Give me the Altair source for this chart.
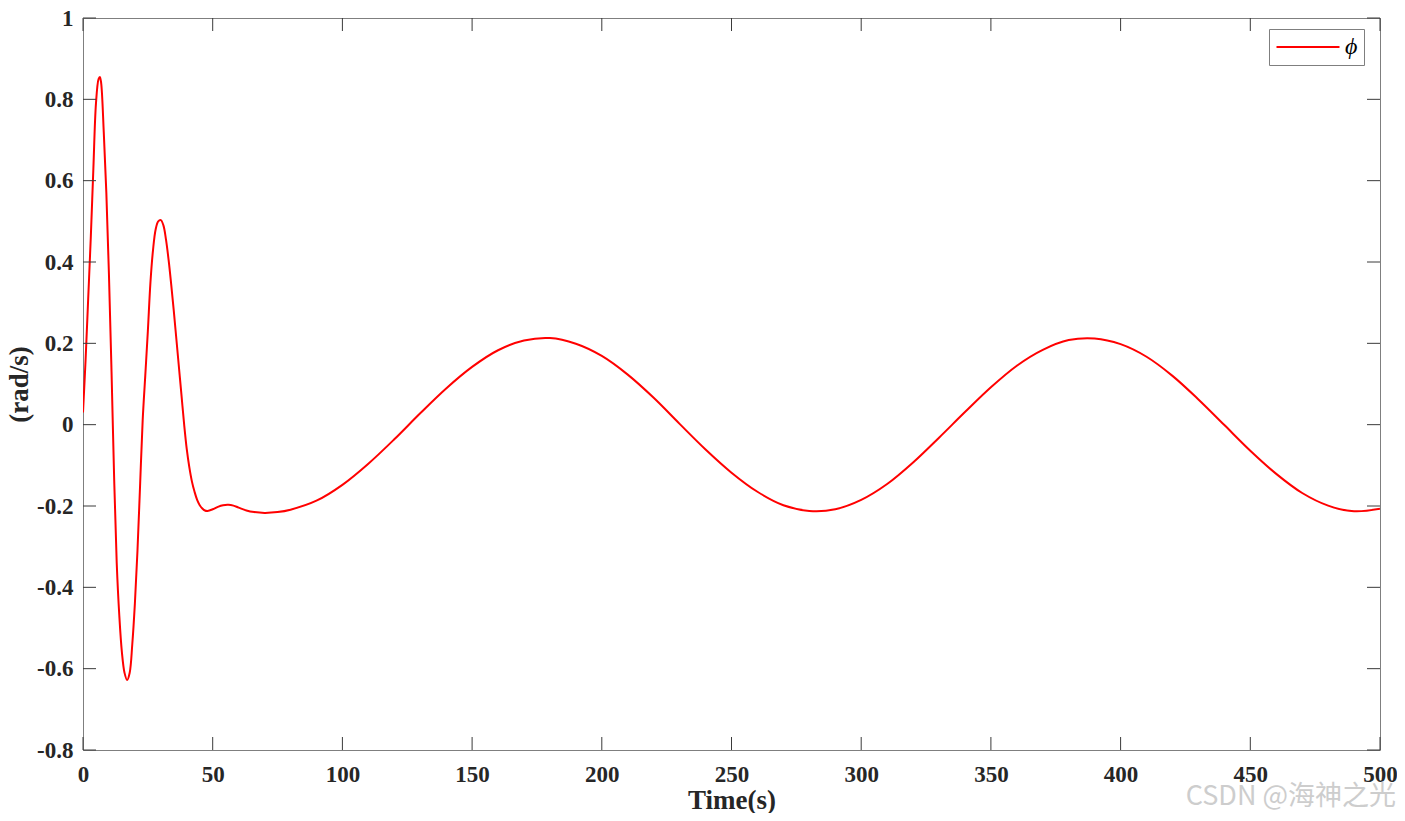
import altair as alt
import pandas as pd

# ---- data ----
time_early = [0, 1, 2, 3, 4, 5, 6, 6.5, 7, 8, 9, 10, 11, 12, 13, 14, 15, 16, 17, 18, 19, 20,
              21, 22, 23, 24, 25, 26, 27, 28, 29, 30, 31, 32, 33, 34, 35, 36, 37, 38, 39, 40,
              41, 42, 43, 44, 45, 46, 47, 48, 50, 52, 54, 56, 58, 60, 63, 66, 70, 75]
phi_early = [0.03, 0.16, 0.31, 0.46, 0.63, 0.79, 0.85, 0.855, 0.84, 0.72, 0.57, 0.37, 0.13,
             -0.13, -0.34, -0.47, -0.56, -0.61, -0.628, -0.61, -0.54, -0.44, -0.31, -0.15,
             0.01, 0.12, 0.23, 0.35, 0.43, 0.48, 0.50, 0.503, 0.49, 0.455, 0.405, 0.345, 0.28,
             0.21, 0.14, 0.07, 0.0, -0.06, -0.105, -0.14, -0.165, -0.185, -0.198, -0.206,
             -0.211, -0.212, -0.208, -0.202, -0.198, -0.197, -0.199, -0.204, -0.211, -0.215,
             -0.217, -0.215]
time_late = [80, 90, 100, 110, 120, 130, 140, 150, 160, 170, 180, 190, 200, 210, 220, 230,
             240, 250, 260, 270, 280, 290, 300, 310, 320, 330, 340, 350, 360, 370, 380, 390,
             400, 410, 420, 430, 440, 450, 460, 470, 480, 490, 500]
phi_late = [-0.209, -0.187, -0.148, -0.096, -0.036, 0.028, 0.089, 0.142, 0.183, 0.207, 0.213,
            0.199, 0.169, 0.123, 0.066, 0.002, -0.061, -0.118, -0.165, -0.198, -0.212, -0.208,
            -0.185, -0.146, -0.093, -0.032, 0.031, 0.092, 0.145, 0.184, 0.208, 0.212, 0.198,
            0.167, 0.120, 0.062, -0.001, -0.064, -0.121, -0.168, -0.199, -0.213, -0.207]

x_ticks = [0, 50, 100, 150, 200, 250, 300, 350, 400, 450, 500]
y_ticks = [-0.8, -0.6, -0.4, -0.2, 0, 0.2, 0.4, 0.6, 0.8, 1]
series_name = "\u03d5"
watermark = "CSDN @\u6d77\u795e\u4e4b\u5149"

W, H = 1297, 732
TICK = 13
FONT = "Liberation Serif"
PAD_L, PAD_T, PAD_R, PAD_B = 75, 10, 17, 63
X0, Y0 = 8 + PAD_L, 8 + PAD_T  # page position of the plot's top-left corner

df = pd.DataFrame({"t": time_early + time_late, "v": phi_early + phi_late})
df["series"] = series_name
xt = pd.DataFrame({"t": x_ticks})
yt = pd.DataFrame({"v": y_ticks})

xscale = alt.Scale(domain=[0, 500], nice=False, zero=False)
yscale = alt.Scale(domain=[-0.8, 1], nice=False, zero=False)

x_axis = alt.Axis(values=x_ticks, title="Time(s)", titleY=58, titleBaseline="alphabetic",
                  labelPadding=13)
y_axis = alt.Axis(values=y_ticks, title="(rad/s)", titleX=19 - X0, titleY=H / 2,
                  titleBaseline="middle", titleAngle=-90, labelPadding=10,
                  labelExpr="datum.value < 0 ? '-' + format(-datum.value, '~g') : format(datum.value, '~g')")

line = alt.Chart(df).mark_line(strokeWidth=2, interpolate="catmull-rom", clip=True).encode(
    x=alt.X("t:Q", scale=xscale, axis=x_axis),
    y=alt.Y("v:Q", scale=yscale, axis=y_axis),
    color=alt.Color("series:N",
                    scale=alt.Scale(domain=[series_name], range=["#ff0000"]),
                    legend=alt.Legend(title=None, orient="none",
                                      legendX=1269 - X0, legendY=29 - Y0,
                                      symbolType="M-1,0H5", symbolSize=441,
                                      symbolStrokeWidth=2,
                                      labelFont=FONT, labelFontStyle="italic", labelFontSize=24,
                                      labelColor="#000000", labelOffset=46,
                                      strokeColor="#7f7f7f", fillColor="#ffffff",
                                      padding=6)),
)

tick_color = "#3a3a3a"
xb = alt.Chart(xt).mark_rule(color=tick_color, strokeWidth=1).encode(
    x=alt.X("t:Q", scale=xscale, axis=x_axis), y=alt.value(H), y2=alt.value(H - TICK))
xtp = alt.Chart(xt).mark_rule(color=tick_color, strokeWidth=1).encode(
    x=alt.X("t:Q", scale=xscale, axis=x_axis), y=alt.value(0), y2=alt.value(TICK))
yl = alt.Chart(yt).mark_rule(color=tick_color, strokeWidth=1).encode(
    y=alt.Y("v:Q", scale=yscale, axis=y_axis), x=alt.value(0), x2=alt.value(TICK))
yr = alt.Chart(yt).mark_rule(color=tick_color, strokeWidth=1).encode(
    y=alt.Y("v:Q", scale=yscale, axis=y_axis), x=alt.value(W), x2=alt.value(W - TICK))

wm = alt.Chart(pd.DataFrame({"txt": [watermark]})).mark_text(
    align="right", baseline="middle", font="Noto Sans CJK SC", fontSize=27,
    color="#cdcdcd", clip=False).encode(
    text="txt:N", x=alt.value(1396 - X0), y=alt.value(797 - Y0))

chart = alt.layer(line, xb, xtp, yl, yr, wm).properties(
    width=W, height=H,
    background="#ffffff",
    autosize=alt.AutoSizeParams(type="none"),
    padding={"left": PAD_L, "top": PAD_T, "right": PAD_R, "bottom": PAD_B},
).configure_view(
    stroke="#7f7f7f", strokeWidth=1
).configure_axis(
    domain=False, grid=False, ticks=False, tickSize=0,
    labelFont=FONT, labelFontWeight="bold", labelFontSize=23, labelColor="#262626",
    titleFont=FONT, titleFontWeight="bold", titleFontSize=27, titleColor="#262626",
    labelFlush=False, labelOverlap=False,
)

chart.save("out.html", embed_options={"renderer": "svg", "actions": False})
